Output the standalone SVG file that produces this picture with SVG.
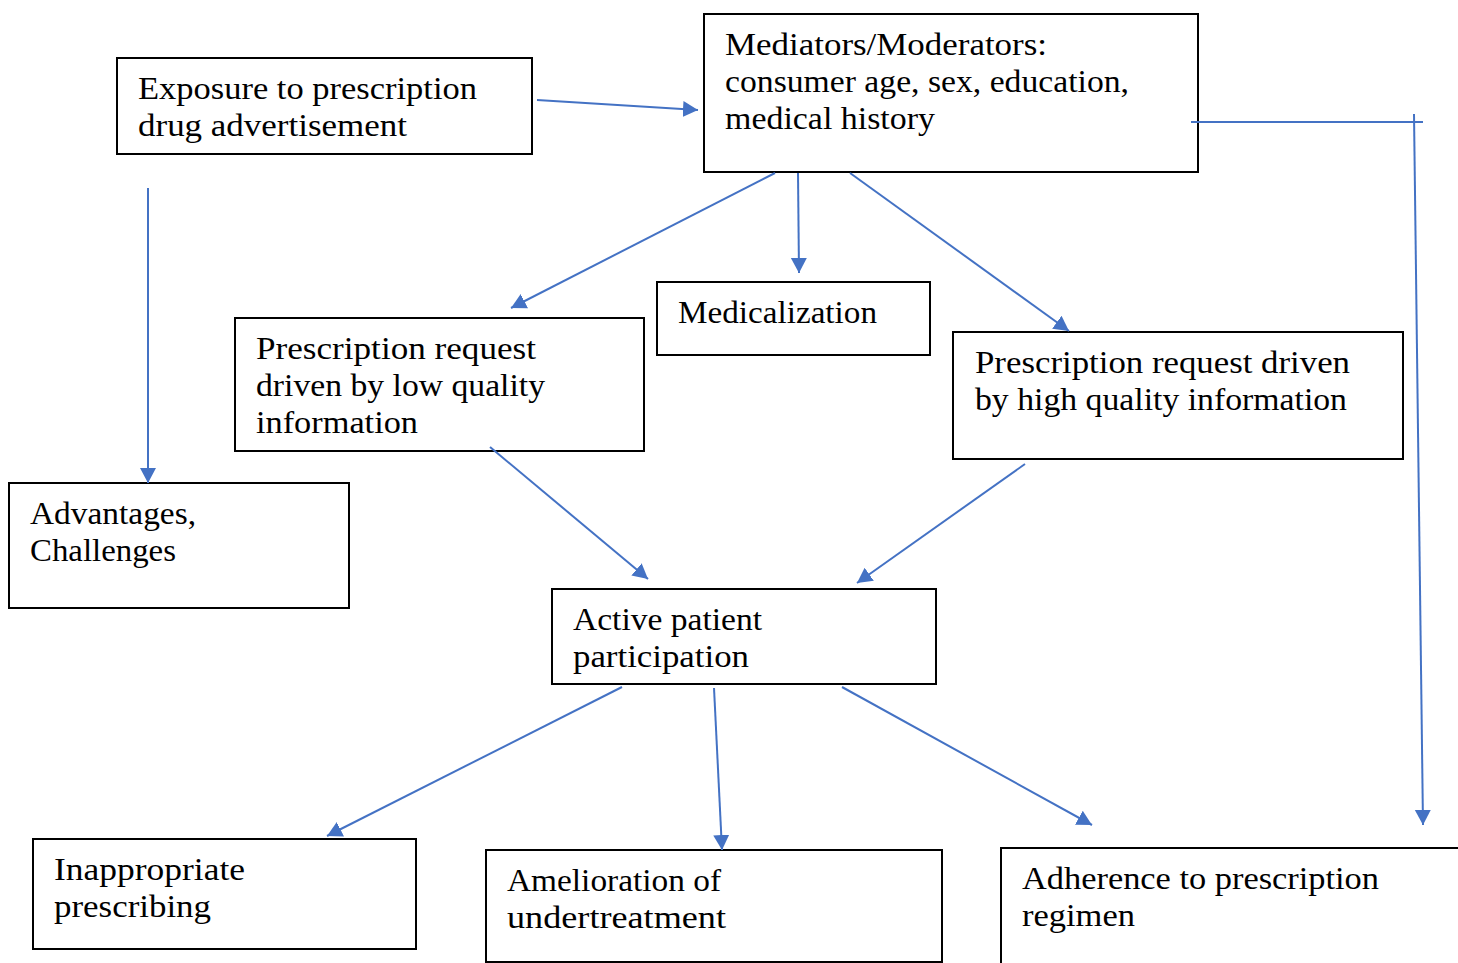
<svg xmlns="http://www.w3.org/2000/svg" width="1458" height="963" viewBox="0 0 1458 963">
<style>
.box{fill:#fff;stroke:#000;stroke-width:2}
.t{font-family:"Liberation Serif","DejaVu Serif",serif;font-size:31px;fill:#000}
.c{stroke:#4472C4;stroke-width:2;fill:none}
</style>
<defs>
<marker id="ah" markerUnits="userSpaceOnUse" markerWidth="18" markerHeight="18" refX="15" refY="8" orient="auto">
<path d="M0,0 L15,8 L0,16 Z" fill="#4472C4"/>
</marker>
</defs>
<rect width="1458" height="963" fill="#fff"/>
<g id="n-exposure">
<rect class="box" x="117" y="58" width="415" height="96"/>
<text class="t" x="138" y="99" textLength="339" lengthAdjust="spacingAndGlyphs">Exposure to prescription</text>
<text class="t" x="138" y="136" textLength="269" lengthAdjust="spacingAndGlyphs">drug advertisement</text>
</g>
<g id="n-mediators">
<rect class="box" x="704" y="14" width="494" height="158"/>
<text class="t" x="725" y="55" textLength="322" lengthAdjust="spacingAndGlyphs">Mediators/Moderators:</text>
<text class="t" x="725" y="92" textLength="404" lengthAdjust="spacingAndGlyphs">consumer age, sex, education,</text>
<text class="t" x="725" y="129" textLength="210" lengthAdjust="spacingAndGlyphs">medical history</text>
</g>
<g id="n-medicalization">
<rect class="box" x="657" y="282" width="273" height="73"/>
<text class="t" x="678" y="323" textLength="199" lengthAdjust="spacingAndGlyphs">Medicalization</text>
</g>
<g id="n-low">
<rect class="box" x="235" y="318" width="409" height="133"/>
<text class="t" x="256" y="359" textLength="280" lengthAdjust="spacingAndGlyphs">Prescription request</text>
<text class="t" x="256" y="396" textLength="289" lengthAdjust="spacingAndGlyphs">driven by low quality</text>
<text class="t" x="256" y="433" textLength="162" lengthAdjust="spacingAndGlyphs">information</text>
</g>
<g id="n-high">
<rect class="box" x="953" y="332" width="450" height="127"/>
<text class="t" x="975" y="373" textLength="375" lengthAdjust="spacingAndGlyphs">Prescription request driven</text>
<text class="t" x="975" y="410" textLength="372" lengthAdjust="spacingAndGlyphs">by high quality information</text>
</g>
<g id="n-advantages">
<rect class="box" x="9" y="483" width="340" height="125"/>
<text class="t" x="30" y="524" textLength="166" lengthAdjust="spacingAndGlyphs">Advantages,</text>
<text class="t" x="30" y="561" textLength="146" lengthAdjust="spacingAndGlyphs">Challenges</text>
</g>
<g id="n-active">
<rect class="box" x="552" y="589" width="384" height="95"/>
<text class="t" x="573" y="630" textLength="189" lengthAdjust="spacingAndGlyphs">Active patient</text>
<text class="t" x="573" y="667" textLength="176" lengthAdjust="spacingAndGlyphs">participation</text>
</g>
<g id="n-inappropriate">
<rect class="box" x="33" y="839" width="383" height="110"/>
<text class="t" x="54" y="880" textLength="191" lengthAdjust="spacingAndGlyphs">Inappropriate</text>
<text class="t" x="54" y="917" textLength="157" lengthAdjust="spacingAndGlyphs">prescribing</text>
</g>
<g id="n-amelioration">
<rect class="box" x="486" y="850" width="456" height="112"/>
<text class="t" x="507" y="891" textLength="214" lengthAdjust="spacingAndGlyphs">Amelioration of</text>
<text class="t" x="507" y="928" textLength="219" lengthAdjust="spacingAndGlyphs">undertreatment</text>
</g>
<g id="n-adherence">
<rect class="box" x="1001" y="848" width="480" height="140"/>
<text class="t" x="1022" y="889" textLength="357" lengthAdjust="spacingAndGlyphs">Adherence to prescription</text>
<text class="t" x="1022" y="926" textLength="113" lengthAdjust="spacingAndGlyphs">regimen</text>
</g>
<g id="connectors">
<line class="c" x1="537" y1="100" x2="698" y2="110" marker-end="url(#ah)"/>
<line class="c" x1="148" y1="188" x2="148" y2="483" marker-end="url(#ah)"/>
<line class="c" x1="775" y1="173" x2="511" y2="308" marker-end="url(#ah)"/>
<line class="c" x1="798" y1="173" x2="799" y2="273" marker-end="url(#ah)"/>
<line class="c" x1="850" y1="173" x2="1069" y2="331" marker-end="url(#ah)"/>
<line class="c" x1="490" y1="447" x2="648" y2="579" marker-end="url(#ah)"/>
<line class="c" x1="1025" y1="464" x2="857" y2="583" marker-end="url(#ah)"/>
<line class="c" x1="622" y1="687" x2="327" y2="836" marker-end="url(#ah)"/>
<line class="c" x1="714" y1="688" x2="722" y2="850" marker-end="url(#ah)"/>
<line class="c" x1="842" y1="687" x2="1092" y2="825" marker-end="url(#ah)"/>
<line class="c" x1="1191" y1="122" x2="1423" y2="122" stroke-width="1.5"/>
<line class="c" x1="1414" y1="114" x2="1423" y2="825" marker-end="url(#ah)"/>
</g>
</svg>
